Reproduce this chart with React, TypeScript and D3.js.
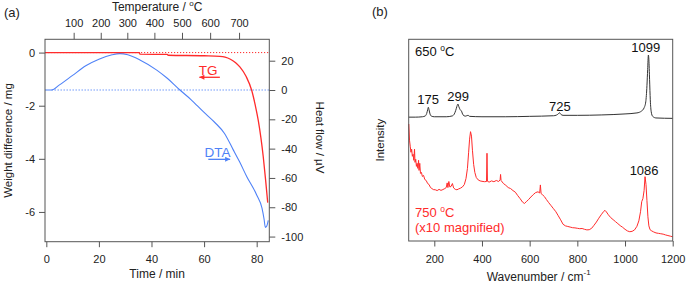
import React, { useEffect, useRef } from 'react';
import * as d3 from 'd3';

// ---- panel (a): TG / DTA ----
const timeTicks = [0, 20, 40, 60, 80];
const tempTicks = [100, 200, 300, 400, 500, 600, 700];
const tempTickTimes = [10.4, 20.7, 30.8, 41.1, 51.6, 62.3, 73.3]; // minute at which each temperature is reached
const weightTicks = [0, -2, -4, -6];
const heatTicks = [20, 0, -20, -40, -60, -80, -100];

// [time (min), weight difference (mg)]
const tgData: [number, number][] = [
  [-0.5, 0], [35.4, 0], [35.6, -0.06], [46, -0.07], [46.3, -0.1], [60, -0.12], [66, -0.14],
  [68, -0.17], [70, -0.25], [72, -0.38], [73.6, -0.54], [76, -0.9], [78.1, -1.42],
  [79.5, -2.0], [80.6, -2.55], [81.6, -3.2], [82.5, -3.92], [83.4, -4.8], [84.2, -5.65],
];

// [time (min), heat flow (uV)]
const dtaData: [number, number][] = [
  [-0.5, 0], [2, 0], [5, 3.5], [10, 10], [15, 16.5], [20, 21], [25, 24], [28, 24.8],
  [31, 24], [35.6, 20.5], [42, 13.6], [46, 8], [50.8, 0], [55, -6.5], [59.7, -14.8],
  [64, -22], [67.7, -29.5], [71, -40.5], [73.5, -49], [76.2, -59], [80, -71.6],
  [82, -80.5], [82.8, -88], [83.3, -93.7], [83.8, -93], [84.4, -89],
];

// ---- panel (b): Raman ----
const waveTicks = [200, 400, 600, 800, 1000, 1200];

// [wavenumber, intensity (a.u.)]
const spec650: [number, number][] = [
  [93, 61.4], [120, 61.4], [150, 61.6], [162, 62], [168, 63.2], [172, 65], [175, 66.3],
  [178, 65], [182, 63], [188, 61.9], [200, 61.6], [250, 61.6], [275, 62], [284, 63],
  [290, 64.8], [295, 66.8], [299, 67.9], [303, 66.6], [308, 65.2], [314, 64.4], [320, 62.6],
  [330, 61.9], [338, 62.2], [342, 62.3], [348, 61.8], [400, 61.6], [500, 61.6], [600, 61.8],
  [700, 62.1], [712, 62.4], [720, 63], [725, 63.6], [730, 62.9], [740, 62.3], [800, 62.3],
  [900, 62.5], [1000, 63], [1050, 63.5], [1070, 64.5], [1080, 66], [1087, 69], [1092, 77],
  [1095, 85], [1098, 92.2], [1100, 90], [1103, 80], [1106, 70], [1110, 64], [1116, 61.8],
  [1130, 61], [1200, 60.8],
];

const spec750: [number, number][] = [
  [93, 58], [96, 50], [99, 47], [102, 44], [105, 45.5], [108, 42], [111, 43], [114, 40],
  [117, 45.5], [119, 39], [122, 40.5], [125, 37], [128, 38.5], [131, 36], [134, 40],
  [136, 35], [139, 38.5], [142, 33.5], [146, 34], [150, 32], [155, 32.5], [160, 30.5],
  [166, 30], [172, 28.5], [178, 28], [184, 26.5], [190, 26], [196, 25.5], [204, 25.4],
  [212, 25], [220, 25.6], [228, 25.1], [236, 25.5], [244, 26], [250, 26.5], [254, 28.8],
  [257, 26.5], [261, 29.5], [265, 26.8], [270, 27], [276, 28.5], [281, 26.3], [288, 25.6],
  [295, 25.4], [302, 25.8], [310, 26.2], [318, 26.8], [326, 28], [333, 31], [339, 36],
  [344, 44], [348, 50.5], [352, 54.2], [356, 52], [360, 45], [365, 38], [370, 34],
  [376, 31.5], [384, 30.3], [392, 29.8], [400, 29.6], [410, 29.4], [419, 29.5], [421, 43.5],
  [423, 29.6], [430, 29.2], [440, 29.8], [450, 29.4], [460, 30], [470, 29.5], [476, 30.3],
  [478, 33], [480, 30], [490, 28.5], [500, 27.6], [510, 26.5], [520, 26], [530, 25],
  [540, 24.2], [550, 22.5], [560, 21], [570, 19.3], [578, 18.6], [586, 19.5], [595, 20.5],
  [605, 21.8], [615, 23], [625, 24], [635, 24.4], [642, 23.8], [645, 27.8], [648, 23.5],
  [655, 22.8], [662, 22], [670, 20.6], [680, 19], [690, 17.5], [700, 16], [710, 14.5],
  [720, 12.5], [730, 10.5], [740, 8.3], [750, 7.5], [760, 7.2], [770, 6.9], [780, 6.6],
  [790, 6.5], [800, 6.3], [810, 6.1], [820, 6.2], [830, 5.8], [840, 5.5], [850, 5.6],
  [860, 6.3], [870, 7.8], [880, 9.4], [890, 11.3], [900, 13], [910, 14.6], [916, 15.2],
  [922, 14.4], [930, 13], [940, 11.6], [950, 10.6], [960, 9.6], [970, 8.6], [980, 7.6],
  [990, 6.8], [1000, 5.8], [1010, 5], [1020, 4.6], [1030, 4.8], [1040, 5.5], [1050, 7.3],
  [1058, 10], [1065, 14.5], [1070, 19.5], [1075, 21], [1080, 25], [1084, 31.9], [1088, 28],
  [1092, 20], [1096, 12], [1100, 7.5], [1105, 5.6], [1112, 5], [1120, 4.5], [1130, 4],
  [1140, 3.8], [1150, 3.6], [1160, 3.4], [1170, 3], [1180, 2.7], [1190, 2.4], [1200, 2.1],
];

// peak labels: [text, wavenumber, intensity]
const peaks650: [string, number, number][] = [
  ['175', 174, 68], ['299', 300, 69.6], ['725', 727, 64.6], ['1099', 1087, 93.9],
];
const peaks750: [string, number, number][] = [['1086', 1080, 32.7]];

const FONT = '"Liberation Sans", Arial, sans-serif';
const RED = '#ff2b2b';
const BLUE = '#4f82f7';
const AXIS = '#555';

const App = () => {
  const svgRef = useRef<SVGSVGElement>(null);

  useEffect(() => {
    const svg = d3.select(svgRef.current);
    svg.selectAll('*').remove();
    svg.attr('font-family', FONT);

    const styleAxis = (g: any) => {
      g.select('.domain').remove();
      g.selectAll('line').attr('stroke', AXIS);
      g.selectAll('text').attr('fill', '#222').attr('font-size', 11).attr('font-family', FONT);
    };
    const fmt = (d: any) => String(d);

    // ===== panel (a) =====
    const ax = { left: 45, right: 269.3, top: 39.3, bottom: 241.7 };
    const x = d3.scaleLinear().domain([-0.5, 84.8]).range([ax.left, ax.right]);
    const yW = d3.scaleLinear().domain([-7.12, 0.5]).range([ax.bottom, ax.top]);
    const yH = d3.scaleLinear().domain([-103.5, 34.6]).range([ax.bottom, ax.top]);
    const xTemp = d3.scaleLinear().domain(tempTicks).range(tempTickTimes.map(t => x(t)));

    const a = svg.append('g');

    a.append('g').attr('transform', `translate(0,${ax.bottom})`)
      .call(d3.axisBottom(x).tickValues(timeTicks).tickFormat(fmt).tickSize(5.5).tickPadding(8.5))
      .call(styleAxis);
    a.append('g').attr('transform', `translate(0,${ax.top})`)
      .call(d3.axisTop(xTemp).tickValues(tempTicks).tickFormat(fmt).tickSize(6.5).tickPadding(6))
      .call(styleAxis);
    a.append('g').attr('transform', `translate(${ax.left},0)`)
      .call(d3.axisLeft(yW).tickValues(weightTicks).tickFormat(fmt).tickSize(6).tickPadding(4))
      .call(styleAxis);
    a.append('g').attr('transform', `translate(${ax.right},0)`)
      .call(d3.axisRight(yH).tickValues(heatTicks).tickFormat(fmt).tickSize(6).tickPadding(6))
      .call(styleAxis);

    // zero reference lines
    a.append('line').attr('x1', ax.left).attr('x2', ax.right).attr('y1', yW(0)).attr('y2', yW(0))
      .attr('stroke', RED).attr('stroke-width', 1).attr('stroke-dasharray', '1.2,1.8');
    a.append('line').attr('x1', x(2)).attr('x2', ax.right).attr('y1', yH(0)).attr('y2', yH(0))
      .attr('stroke', BLUE).attr('stroke-width', 1.2).attr('stroke-dasharray', '1.2,1.8');

    a.append('path').datum(dtaData)
      .attr('d', d3.line<[number, number]>().x(d => x(d[0])).y(d => yH(d[1])).curve(d3.curveMonotoneX))
      .attr('fill', 'none').attr('stroke', BLUE).attr('stroke-width', 1.1);
    a.append('path').datum(tgData)
      .attr('d', d3.line<[number, number]>().x(d => x(d[0])).y(d => yW(d[1])).curve(d3.curveMonotoneX))
      .attr('fill', 'none').attr('stroke', RED).attr('stroke-width', 1.3);

    a.append('rect').attr('x', ax.left).attr('y', ax.top)
      .attr('width', ax.right - ax.left).attr('height', ax.bottom - ax.top)
      .attr('fill', 'none').attr('stroke', AXIS).attr('stroke-width', 1);

    // curve labels with arrows
    const arrow = (g: any, x1: number, x2: number, yy: number, color: string) => {
      g.append('line').attr('x1', x1).attr('x2', x2).attr('y1', yy).attr('y2', yy)
        .attr('stroke', color).attr('stroke-width', 1.3);
      const dir = Math.sign(x2 - x1);
      g.append('path')
        .attr('d', `M${x2},${yy} L${x2 - dir * 5},${yy - 2.5} L${x2 - dir * 5},${yy + 2.5} Z`)
        .attr('fill', color);
    };
    a.append('text').attr('x', x(61.5)).attr('y', yW(-0.84)).attr('text-anchor', 'middle')
      .attr('font-size', 13.5).attr('fill', RED).text('TG');
    arrow(a, x(66), x(58.2), yW(-0.93), RED);
    a.append('text').attr('x', x(65.1)).attr('y', yH(-45.5)).attr('text-anchor', 'middle')
      .attr('font-size', 13.5).attr('fill', BLUE).text('DTA');
    arrow(a, x(61.6), x(69.9), yH(-47.3), BLUE);

    // axis titles
    const ta = a.append('text').attr('x', (ax.left + ax.right) / 2).attr('y', 10.5)
      .attr('text-anchor', 'middle').attr('font-size', 12).attr('fill', '#222');
    ta.append('tspan').text('Temperature / ');
    ta.append('tspan').attr('font-size', 8).attr('dy', -5).text('o');
    ta.append('tspan').attr('dy', 5).text('C');
    a.append('text').attr('x', (ax.left + ax.right) / 2).attr('y', 277.5)
      .attr('text-anchor', 'middle').attr('font-size', 12).attr('fill', '#222').text('Time / min');
    a.append('text').attr('transform', `translate(11.5,${(ax.top + ax.bottom) / 2}) rotate(-90)`)
      .attr('text-anchor', 'middle').attr('font-size', 11.5).attr('fill', '#222').text('Weight difference / mg');
    a.append('text').attr('transform', `translate(316,${(ax.top + ax.bottom) / 2 - 3}) rotate(90)`)
      .attr('text-anchor', 'middle').attr('font-size', 11.5).attr('fill', '#222').text('Heat flow / µV');
    a.append('text').attr('x', 4).attr('y', 17).attr('font-size', 13).attr('fill', '#222').text('(a)');

    // ===== panel (b) =====
    const bx = { left: 408.7, right: 672.7, top: 39.3, bottom: 241 };
    const xw = d3.scaleLinear().domain([92.6, 1200]).range([bx.left, bx.right]);
    const yi = d3.scaleLinear().domain([0, 100]).range([bx.bottom, bx.top]);
    const b = svg.append('g');

    b.append('g').attr('transform', `translate(0,${bx.bottom})`)
      .call(d3.axisBottom(xw).tickValues(waveTicks).tickFormat(fmt).tickSize(5.5).tickPadding(8.5))
      .call(styleAxis);

    const specLine = d3.line<[number, number]>().x(d => xw(d[0])).y(d => yi(d[1]));
    b.append('path').datum(spec750).attr('d', specLine)
      .attr('fill', 'none').attr('stroke', RED).attr('stroke-width', 1);
    b.append('path').datum(spec650).attr('d', specLine.curve(d3.curveMonotoneX))
      .attr('fill', 'none').attr('stroke', '#333').attr('stroke-width', 1);

    b.append('rect').attr('x', bx.left).attr('y', bx.top)
      .attr('width', bx.right - bx.left).attr('height', bx.bottom - bx.top)
      .attr('fill', 'none').attr('stroke', AXIS).attr('stroke-width', 1);

    b.selectAll('.pk650').data(peaks650).enter().append('text')
      .attr('x', d => xw(d[1])).attr('y', d => yi(d[2])).attr('text-anchor', 'middle')
      .attr('font-size', 13).attr('fill', '#111').text(d => d[0]);
    b.selectAll('.pk750').data(peaks750).enter().append('text')
      .attr('x', d => xw(d[1])).attr('y', d => yi(d[2])).attr('text-anchor', 'middle')
      .attr('font-size', 13).attr('fill', '#111').text(d => d[0]);

    const t650 = b.append('text').attr('x', xw(119)).attr('y', yi(91.5)).attr('font-size', 13).attr('fill', '#111');
    t650.append('tspan').text('650 ');
    t650.append('tspan').attr('font-size', 8.5).attr('dy', -5.5).text('o');
    t650.append('tspan').attr('dy', 5.5).text('C');
    const t750 = b.append('text').attr('x', xw(119)).attr('y', yi(11.9)).attr('font-size', 13).attr('fill', RED);
    t750.append('tspan').text('750 ');
    t750.append('tspan').attr('font-size', 8.5).attr('dy', -5).text('o');
    t750.append('tspan').attr('dy', 5).text('C');
    b.append('text').attr('x', xw(119)).attr('y', yi(4.5)).attr('font-size', 13).attr('fill', RED)
      .text('(x10 magnified)');

    const tw = b.append('text').attr('x', (bx.left + bx.right) / 2 - 2).attr('y', 281)
      .attr('text-anchor', 'middle').attr('font-size', 12).attr('fill', '#222');
    tw.append('tspan').text('Wavenumber / cm');
    tw.append('tspan').attr('font-size', 8).attr('dy', -6).text('-1');
    b.append('text').attr('transform', `translate(383.5,${(bx.top + bx.bottom) / 2}) rotate(-90)`)
      .attr('text-anchor', 'middle').attr('font-size', 11.5).attr('fill', '#222').text('Intensity');
    b.append('text').attr('x', 372).attr('y', 16).attr('font-size', 13).attr('fill', '#222').text('(b)');
  }, []);

  return (
    <svg ref={svgRef} width={687} height={285}
      style={{ position: 'absolute', left: 0, top: 0, background: '#fff' }} />
  );
};

export default App;
